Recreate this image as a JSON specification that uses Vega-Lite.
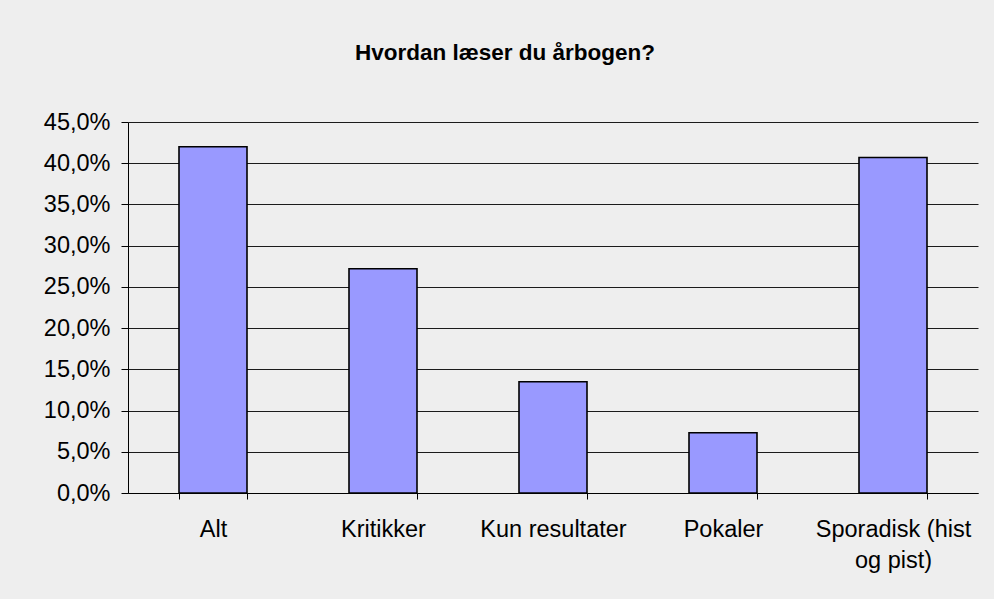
{
  "$schema": "https://vega.github.io/schema/vega-lite/v6.json",
  "width": 850,
  "height": 371,
  "autosize": {"type": "none"},
  "padding": {"left": 128, "top": 122, "right": 16, "bottom": 106},
  "background": "#eeeeee",
  "title": {
    "text": "Hvordan læser du årbogen?",
    "font": "Liberation Sans",
    "fontSize": 22.5,
    "fontWeight": "bold",
    "color": "#000000",
    "anchor": "middle",
    "dx": -48,
    "offset": 46
  },
  "config": {
    "view": {"stroke": null},
    "font": "Liberation Sans"
  },
  "data": {
    "values": [
      {"kategori": "Alt", "andel": 0.420},
      {"kategori": "Kritikker", "andel": 0.272},
      {"kategori": "Kun resultater", "andel": 0.135},
      {"kategori": "Pokaler", "andel": 0.073},
      {"kategori": "Sporadisk (hist og pist)", "andel": 0.407}
    ]
  },
  "mark": {"type": "bar", "fill": "#9999ff", "stroke": "#000000", "strokeWidth": 1.6},
  "encoding": {
    "x": {
      "field": "kategori",
      "type": "nominal",
      "sort": null,
      "scale": {"paddingInner": 0.6, "paddingOuter": 0.3},
      "axis": {
        "title": null,
        "labelAngle": 0,
        "tickBand": "extent",
        "labelFont": "Liberation Sans",
        "labelFontSize": 23.5,
        "labelColor": "#000000",
        "labelPadding": 18,
        "labelLineHeight": 31,
        "tickSize": 6,
        "tickColor": "#000000",
        "domainColor": "#000000",
        "labelExpr": "datum.label == 'Sporadisk (hist og pist)' ? ['Sporadisk (hist', 'og pist)'] : datum.label"
      }
    },
    "y": {
      "field": "andel",
      "type": "quantitative",
      "scale": {"domain": [0, 0.45]},
      "axis": {
        "title": null,
        "values": [0, 0.05, 0.1, 0.15, 0.2, 0.25, 0.3, 0.35, 0.4, 0.45],
        "labelExpr": "replace(format(datum.value, '.1%'), '.', ',')",
        "labelFont": "Liberation Sans",
        "labelFontSize": 23.5,
        "labelColor": "#000000",
        "labelPadding": 11,
        "tickSize": 7,
        "tickColor": "#000000",
        "domainColor": "#000000",
        "grid": true,
        "gridColor": "#1a1a1a",
        "gridWidth": 1
      }
    }
  }
}
